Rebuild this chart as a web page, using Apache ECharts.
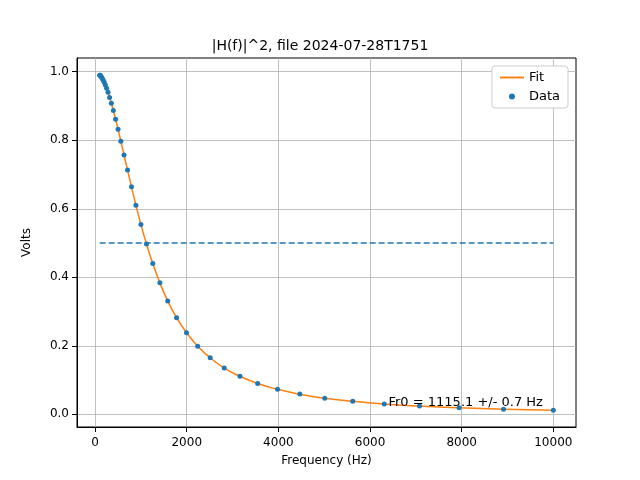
<!DOCTYPE html>
<html>
<head>
<meta charset="utf-8">
<script src="https://cdn.jsdelivr.net/npm/echarts@6/dist/echarts.min.js"></script>
<style>html,body{margin:0;padding:0;background:#fff}#chart{width:640px;height:480px}</style>
</head>
<body>
<div id="chart"></div>
<script>
const freqs = [100, 112, 126, 141, 158, 178, 200, 224, 251, 282, 316, 355, 398, 447, 501, 562, 631, 708, 794, 891,
  1000, 1122, 1259, 1413, 1585, 1778, 1995, 2239, 2512, 2818, 3162, 3548, 3981, 4467, 5012, 5623, 6310, 7079, 7943, 8913, 10000];
const volts = [0.990, 0.990, 0.987, 0.984, 0.980, 0.975, 0.969, 0.961, 0.952, 0.940, 0.925, 0.908, 0.887, 0.861, 0.832,
  0.797, 0.757, 0.713, 0.664, 0.610, 0.554, 0.497, 0.440, 0.384, 0.331, 0.282, 0.238, 0.199, 0.165, 0.135, 0.111,
  0.090, 0.073, 0.059, 0.047, 0.038, 0.030, 0.024, 0.019, 0.015, 0.012];
const fitVals = volts.slice();
const halfLine = [[100, 0.5], [10000, 0.5]];
const xTicks = [0, 2000, 4000, 6000, 8000, 10000];
const yTicks = [0, 0.2, 0.4, 0.6, 0.8, 1.0];
const annot = 'Fr0 = 1115.1 +/- 0.7 Hz';

const chart = echarts.init(document.getElementById('chart'));
const font = 'DejaVu Sans';
const splitStyle = {show: true, lineStyle: {color: '#b0b0b0', width: 0.8}};
chart.setOption({
  animation: false,
  textStyle: {fontFamily: font},
  title: {text: '|H(f)|^2, file 2024-07-28T1751', left: 'center', top: 34,
    textStyle: {fontFamily: font, fontSize: 14, fontWeight: 'normal', color: '#000'}},
  grid: {left: 77, right: 64, top: 58, bottom: 53, show: true, borderColor: '#000', borderWidth: 1},
  legend: {right: 72, top: 66, orient: 'vertical', backgroundColor: '#fff', borderColor: '#ccc', borderWidth: 1,
    borderRadius: 3, padding: [5, 8], itemGap: 6, textStyle: {fontFamily: font, fontSize: 13, color: '#000'},
    data: [{name: 'Fit', icon: 'path://M0,0h10v0.8h-10z'}, {name: 'Data', icon: 'circle'}], itemWidth: 24, itemHeight: 6},
  xAxis: {type: 'value', min: -395, max: 10495, name: 'Frequency (Hz)', nameLocation: 'middle', nameGap: 28,
    nameTextStyle: {fontSize: 12, color: '#000'},
    axisLine: {onZero: false, lineStyle: {color: '#000'}},
    axisTick: {show: true, customValues: xTicks, lineStyle: {color: '#000'}},
    axisLabel: {customValues: xTicks, color: '#000', fontSize: 12, margin: 10, formatter: v => String(v)},
    splitLine: splitStyle},
  yAxis: {type: 'value', min: -0.037, max: 1.04, name: 'Volts', nameLocation: 'middle', nameGap: 44,
    nameTextStyle: {fontSize: 12, color: '#000'},
    axisLine: {show: true, onZero: false, lineStyle: {color: '#000'}},
    axisTick: {show: true, customValues: yTicks, lineStyle: {color: '#000'}},
    axisLabel: {customValues: yTicks, color: '#000', fontSize: 12, formatter: v => v.toFixed(1)},
    splitLine: splitStyle},
  series: [
    {name: 'Fit', type: 'line', data: freqs.map((f, i) => [f, fitVals[i]]), showSymbol: false, smooth: true,
      lineStyle: {color: '#ff7f0e', width: 1.5}, itemStyle: {color: '#ff7f0e'}, z: 2},
    {name: 'Data', type: 'scatter', data: freqs.map((f, i) => [f, volts[i]]), symbolSize: 5,
      itemStyle: {color: '#1f77b4', opacity: 1}, z: 3},
    {name: 'half', type: 'line', data: halfLine, showSymbol: false,
      lineStyle: {color: '#1f77b4', width: 1.5, type: [6, 3]}, z: 2}
  ]
});
const p = chart.convertToPixel({gridIndex: 0}, [6403, 0.03]);
chart.setOption({graphic: [{type: 'text', left: p[0], top: p[1] - 8, z: 10,
  style: {text: annot, fontFamily: font, fontSize: 13, fill: '#000'}}]});
</script>
</body>
</html>
